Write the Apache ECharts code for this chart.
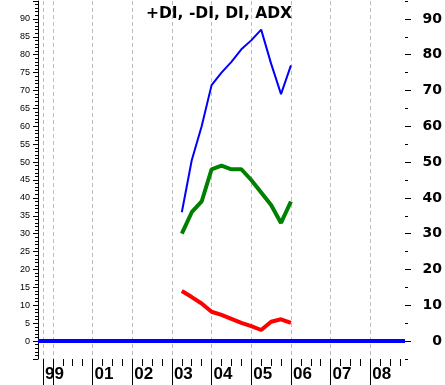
<!DOCTYPE html>
<html>
<head>
<meta charset="utf-8">
<script src="https://cdn.jsdelivr.net/npm/echarts@6/dist/echarts.min.js"></script>
<style>
  html, body { margin: 0; padding: 0; background: #fff; }
  #chart { width: 445px; height: 385px; }
</style>
</head>
<body>
<div id="chart"></div>
<script>
// quarterly readings, x in decimal years
const quarters = [2003.25, 2003.5, 2003.75, 2004.0, 2004.25, 2004.5, 2004.75, 2005.0, 2005.25, 2005.5, 2005.75, 2006.0];
const adx = [36, 50.5, 60, 71.5, 75, 78, 81.5, 84, 87, 77.5, 69, 77];
const plusDI = [30, 36, 39, 48, 49, 48, 48, 45, 41.5, 38, 33, 39];
const minusDI = [14, 12.3, 10.5, 8.2, 7.3, 6.2, 5.1, 4.2, 3.1, 5.4, 6.1, 5.1];
const diLevel = 0;

const xMin = 1999.625;
const xMax = 2008.875;
const quarterTicks = [];
for (let i = 0; i <= 36; i++) quarterTicks.push(1999.75 + i * 0.25);
const yearTicks = [1999.75, 2000, 2001, 2002, 2003, 2004, 2005, 2006, 2007, 2008];
const labelYears = [1999.75, 2001, 2002, 2003, 2004, 2005, 2006, 2007, 2008];
const yearLabels = ['99', '01', '02', '03', '04', '05', '06', '07', '08'];

const rightMajor = [0, 10, 20, 30, 40, 50, 60, 70, 80, 90];
const rightMinor = [-5, 5, 15, 25, 35, 45, 55, 65, 75, 85, 95];

const pairs = (vals) => vals.map((v, i) => [quarters[i], v]);

const chart = echarts.init(document.getElementById('chart'));
chart.setOption({
  animation: false,
  backgroundColor: '#fff',
  title: {
    text: '+DI, -DI, DI, ADX',
    left: 146,
    top: 6,
    padding: 0,
    textStyle: { fontFamily: 'DejaVu Sans', fontWeight: 'bold', fontSize: 15.5, color: '#000' },
  },
  grid: { left: 38, right: 39, top: 1, bottom: 26 },
  xAxis: [
    {
      type: 'value', position: 'bottom', min: xMin, max: xMax,
      axisLine: { show: false, onZero: false },
      axisTick: { show: true, customValues: quarterTicks, length: 7, lineStyle: { color: '#000' } },
      axisLabel: { show: false },
      splitLine: { show: false },
    },
    {
      type: 'value', position: 'bottom', min: xMin, max: xMax,
      axisLine: { show: false, onZero: false },
      axisTick: { show: true, customValues: yearTicks, length: 27, lineStyle: { color: '#000' } },
      axisLabel: {
        customValues: labelYears,
        formatter: (v) => yearLabels[labelYears.indexOf(v)] ?? '',
        align: 'left',
        padding: [0, 0, 0, 2],
        margin: 7,
        fontFamily: 'Liberation Sans',
        fontWeight: 'bold',
        fontSize: 17,
        color: '#000',
      },
      splitLine: { show: true, lineStyle: { color: '#bdbdbd', type: [4, 3], width: 1 } },
    },
  ],
  yAxis: [
    {
      type: 'value', position: 'left', min: -5, max: 95, interval: 5,
      axisLine: { show: true, onZero: false, lineStyle: { color: '#000', width: 1 } },
      axisTick: { show: true, length: 5, lineStyle: { color: '#000' } },
      minorTick: { show: true, splitNumber: 5, length: 3, lineStyle: { color: '#000' } },
      axisLabel: {
        formatter: (v) => (v < 0 || v > 90 ? '' : String(v)),
        fontFamily: 'Liberation Sans',
        fontSize: 9,
        margin: 8,
        color: '#000',
      },
      splitLine: { show: false },
    },
    {
      type: 'value', position: 'right', min: -5, max: 95,
      axisLine: { show: false, onZero: false },
      axisTick: { show: true, customValues: rightMajor, length: 6, lineStyle: { color: '#000' } },
      axisLabel: {
        customValues: rightMajor,
        align: 'right',
        margin: 37,
        fontFamily: 'DejaVu Sans',
        fontWeight: 'bold',
        fontSize: 14,
        color: '#000',
      },
      splitLine: { show: false },
    },
    {
      type: 'value', position: 'right', min: -5, max: 95,
      axisLine: { show: false, onZero: false },
      axisTick: { show: true, customValues: rightMinor, length: 3, lineStyle: { color: '#000' } },
      axisLabel: { show: false },
      splitLine: { show: false },
    },
  ],
  series: [
    {
      name: 'DI', type: 'line', data: [], silent: true,
      markLine: {
        silent: true, symbol: 'none', label: { show: false },
        lineStyle: { color: '#0000ff', width: 4, type: 'solid' },
        data: [{ yAxis: diLevel }],
      },
    },
    {
      name: 'ADX', type: 'line', data: pairs(adx), showSymbol: false,
      lineStyle: { color: '#0000ff', width: 2 },
    },
    {
      name: '+DI', type: 'line', data: pairs(plusDI), showSymbol: false,
      lineStyle: { color: '#008000', width: 4 },
    },
    {
      name: '-DI', type: 'line', data: pairs(minusDI), showSymbol: false,
      lineStyle: { color: '#ff0000', width: 4 },
    },
  ],
});
</script>
</body>
</html>
